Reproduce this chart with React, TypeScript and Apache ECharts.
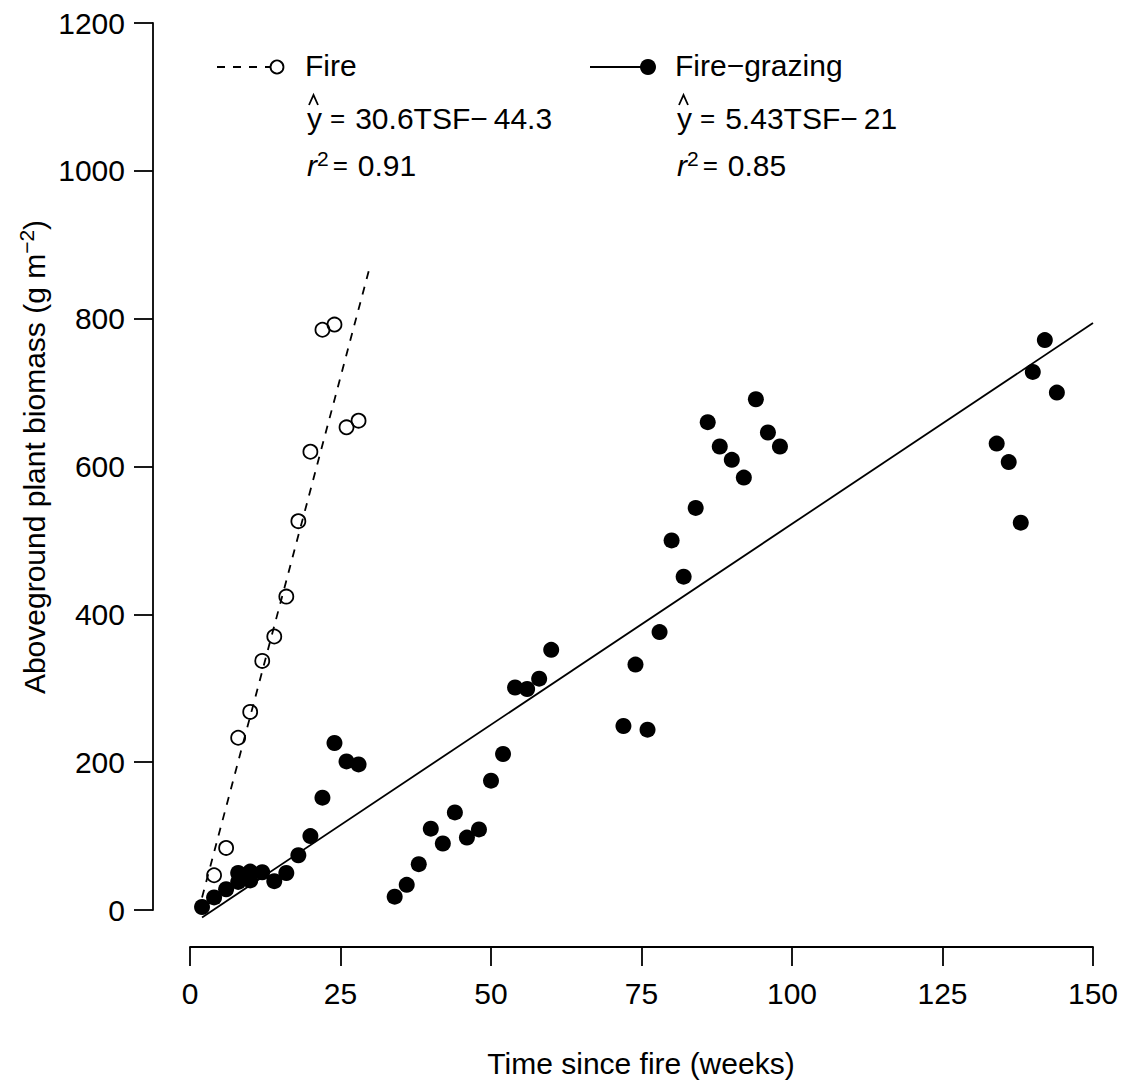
import React, { useEffect, useRef } from "react";
import * as echarts from "echarts";

// Fire treatment (open circles)
const fireWeeks = [4, 6, 8, 10, 12, 14, 16, 18, 20, 22, 24, 26, 28];
const fireBiomass = [47, 84, 233, 268, 337, 370, 424, 526, 620, 785, 792, 653, 662];

// Fire-grazing treatment (filled circles)
const grazWeeks = [
  2, 4, 6, 8, 8, 10, 10, 12, 14, 16, 18, 20, 22, 24, 26, 28,
  34, 36, 38, 40, 42, 44, 46, 48, 50, 52, 54, 56, 58, 60,
  72, 74, 76, 78, 80, 82, 84, 86, 88, 90, 92, 94, 96, 98,
  134, 136, 138, 140, 142, 144,
];
const grazBiomass = [
  4, 17, 28, 50, 38, 52, 40, 51, 39, 50, 74, 100, 152, 226, 201, 197,
  18, 34, 62, 110, 90, 132, 98, 109, 175, 211, 301, 299, 313, 352,
  249, 332, 244, 376, 500, 451, 544, 660, 627, 609, 585, 691, 646, 627,
  631, 606, 524, 728, 771, 700,
];

// Fitted line end points
const fireFit = [
  [2, 17],
  [30, 874],
];
const grazFit = [
  [2, -10],
  [150, 794],
];

const xTicks = [0, 25, 50, 75, 100, 125, 150];
const yTicks = [0, 200, 400, 600, 800, 1000, 1200];

const FONT = "'Liberation Sans', Arial, Helvetica, sans-serif";

export default function App() {
  const ref = useRef<HTMLDivElement>(null);
  useEffect(() => {
    document.body.style.margin = "0";
    if (!ref.current) return;
    const chart = echarts.init(ref.current, undefined, { renderer: "svg" });
    const axisLineStyle = { color: "#000", width: 1.8 };
    const eqRich = {
      y: { fontSize: 30, fontFamily: FONT, color: "#000", padding: [0, 8, 0, 0] },
      eq: { fontSize: 26, fontFamily: FONT, color: "#000", padding: [0, 10, 0, 0] },
      t: { fontSize: 30, fontFamily: FONT, color: "#000" },
      r: { fontSize: 30, fontFamily: FONT, fontStyle: "italic", color: "#000" },
      sup: { fontSize: 21, fontFamily: FONT, color: "#000", verticalAlign: "bottom", padding: [0, 4, 14, 0] },
    };
    const legendCol = (x0: number, name: string, eq: string, r2: string) => [
      { type: "text", left: x0, top: 67 - 17, style: { text: name, font: `30px ${FONT}`, fill: "#000" } },
      {
        type: "text",
        x: x0 + 2,
        y: 118,
        style: {
          text: `{y|y}{eq|=}{t|${eq}}`,
          rich: eqRich,
          verticalAlign: "middle",
          align: "left",
        },
      },
      {
        type: "polyline",
        shape: { points: [[x0 + 4, 105], [x0 + 8.5, 95], [x0 + 13, 105]] },
        style: { stroke: "#000", lineWidth: 1.8, fill: "none" },
      },
      {
        type: "text",
        x: x0 + 2,
        y: 165,
        style: {
          text: `{r|r}{sup|2}{eq|=}{t|${r2}}`,
          rich: eqRich,
          verticalAlign: "middle",
          align: "left",
        },
      },
    ];
    chart.setOption({
      animation: false,
      backgroundColor: "#fff",
      grid: { left: 190, right: 38, top: 23, bottom: 177, containLabel: false },
      xAxis: {
        type: "value",
        min: 0,
        max: 150,
        interval: 25,
        offset: 37,
        axisLine: { show: true, onZero: false, lineStyle: axisLineStyle },
        axisTick: { show: true, length: 19, lineStyle: axisLineStyle },
        splitLine: { show: false },
        axisLabel: {
          margin: 31,
          fontSize: 30,
          fontFamily: FONT,
          color: "#000",
          formatter: (v: number) => (xTicks.includes(v) ? String(v) : ""),
        },
      },
      yAxis: {
        type: "value",
        min: 0,
        max: 1200,
        interval: 200,
        offset: 37,
        axisLine: { show: true, onZero: false, lineStyle: axisLineStyle },
        axisTick: { show: true, length: 19, lineStyle: axisLineStyle },
        splitLine: { show: false },
        axisLabel: {
          margin: 28,
          fontSize: 30,
          fontFamily: FONT,
          color: "#000",
          formatter: (v: number) => (yTicks.includes(v) ? String(v) : ""),
        },
      },
      series: [
        {
          type: "line",
          data: fireFit,
          showSymbol: false,
          symbol: "none",
          clip: false,
          lineStyle: { color: "#000", width: 1.8, type: [8, 8] },
          silent: true,
        },
        {
          type: "line",
          data: grazFit,
          showSymbol: false,
          symbol: "none",
          clip: false,
          lineStyle: { color: "#000", width: 1.8 },
          silent: true,
        },
        {
          type: "scatter",
          name: "Fire",
          data: fireWeeks.map((w, i) => [w, fireBiomass[i]]),
          symbol: "circle",
          symbolSize: 14,
          clip: false,
          itemStyle: { color: "rgba(0,0,0,0)", borderColor: "#000", borderWidth: 1.8, opacity: 1 },
        },
        {
          type: "scatter",
          name: "Fire−grazing",
          data: grazWeeks.map((w, i) => [w, grazBiomass[i]]),
          symbol: "circle",
          symbolSize: 16,
          clip: false,
          itemStyle: { color: "#000", opacity: 1 },
        },
      ],
      graphic: [
        // legend keys
        {
          type: "line",
          shape: { x1: 217, y1: 67, x2: 270, y2: 67 },
          style: { stroke: "#000", lineWidth: 1.8, lineDash: [8, 8] },
        },
        {
          type: "circle",
          shape: { cx: 277, cy: 67, r: 6.5 },
          style: { stroke: "#000", lineWidth: 1.8, fill: "none" },
        },
        {
          type: "line",
          shape: { x1: 590, y1: 67, x2: 645, y2: 67 },
          style: { stroke: "#000", lineWidth: 1.8 },
        },
        {
          type: "circle",
          shape: { cx: 648, cy: 67, r: 8 },
          style: { fill: "#000" },
        },
        ...legendCol(305, "Fire", "30.6TSF−\u200944.3", "0.91"),
        ...legendCol(675, "Fire−grazing", "5.43TSF−\u200921", "0.85"),
        // axis titles
        {
          type: "text",
          x: 641,
          y: 1063,
          style: {
            text: "Time since fire (weeks)",
            font: `30px ${FONT}`,
            fill: "#000",
            align: "center",
            verticalAlign: "middle",
          },
        },
        {
          type: "text",
          x: 34,
          y: 457,
          rotation: Math.PI / 2,
          style: {
            text: "{a|Aboveground plant biomass (g m}{s|−2}{a|)}",
            rich: {
              a: { fontSize: 30, fontFamily: FONT, color: "#000" },
              s: { fontSize: 21, fontFamily: FONT, color: "#000", verticalAlign: "bottom", padding: [0, 0, 16, 0] },
            },
            align: "center",
            verticalAlign: "middle",
          },
        },
      ],
    });
    return () => chart.dispose();
  }, []);
  return <div ref={ref} style={{ width: 1131, height: 1087 }} />;
}
